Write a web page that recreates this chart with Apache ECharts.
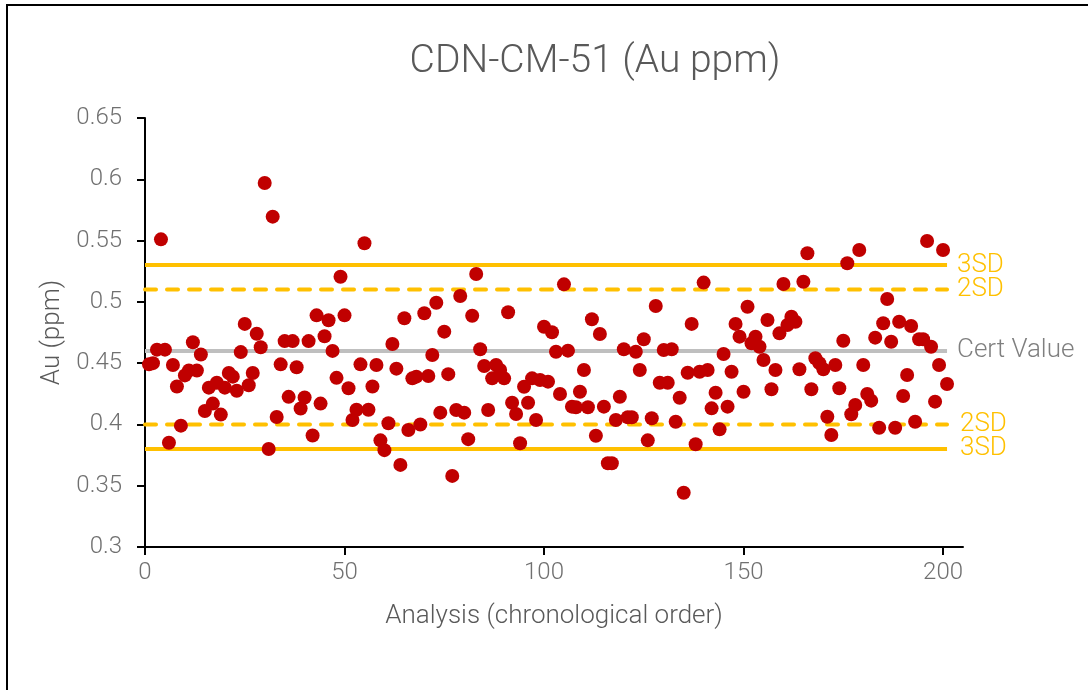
<!DOCTYPE html>
<html>
<head>
<meta charset="utf-8">
<script src="https://cdn.jsdelivr.net/npm/echarts@6/dist/echarts.min.js"></script>
<style>
html,body{margin:0;padding:0;background:#fff;overflow:hidden;}
#c{width:1088px;height:690px;}
</style>
</head>
<body>
<div id="c"></div>
<script>
// Au (ppm) results, analyses 1..201 in chronological order
var auValues = [
0.449,0.450,0.461,0.551,0.461,0.385,0.4485,0.431,0.399,0.440,
0.444,0.467,0.444,0.457,0.411,0.430,0.417,0.434,0.408,0.430,
0.442,0.439,0.4275,0.459,0.482,0.432,0.442,0.474,0.463,0.597,
0.380,0.5695,0.406,0.449,0.468,0.4225,0.468,0.4466,0.413,0.422,
0.468,0.391,0.489,0.417,0.472,0.485,0.460,0.438,0.5205,0.489,
0.4295,0.4036,0.412,0.449,0.5478,0.412,0.431,0.4485,0.387,0.379,
0.401,0.4656,0.4455,0.367,0.4866,0.3955,0.4376,0.439,0.400,0.4907,
0.4395,0.4567,0.4993,0.4096,0.4757,0.441,0.358,0.4118,0.5048,0.4096,
0.388,0.4887,0.5227,0.4613,0.4477,0.4118,0.4376,0.4485,0.4444,0.4376,
0.4915,0.4177,0.4085,0.3846,0.4308,0.4177,0.4376,0.4036,0.4362,0.4797,
0.4349,0.4752,0.4593,0.4248,0.5143,0.4602,0.4145,0.414,0.4267,0.4444,
0.414,0.4858,0.3908,0.4738,0.4145,0.3683,0.3683,0.4036,0.4226,0.4613,
0.4058,0.4058,0.4593,0.4444,0.4695,0.387,0.405,0.4966,0.434,0.4607,
0.434,0.4613,0.4022,0.4218,0.3443,0.4422,0.482,0.3838,0.443,0.5157,
0.4444,0.4131,0.4259,0.396,0.4575,0.4145,0.443,0.482,0.4716,0.4267,
0.496,0.4662,0.4716,0.4634,0.4526,0.4852,0.4287,0.4444,0.4743,0.5146,
0.4811,0.4879,0.4838,0.445,0.5164,0.5396,0.4287,0.454,0.45,0.445,
0.4063,0.3914,0.4485,0.4295,0.4683,0.5315,0.4083,0.4159,0.5423,0.4485,
0.4248,0.4194,0.4708,0.3973,0.4825,0.5023,0.4675,0.3973,0.4838,0.4232,
0.4403,0.4803,0.4022,0.4695,0.4695,0.5497,0.4634,0.4186,0.4485,0.5423,
0.433
];

// control limits
var limitNames  = ['3SD', '2SD', 'Cert Value', '2SD', '3SD'];
var limitValues = [0.53, 0.51, 0.46, 0.40, 0.38];
var limitKinds  = ['solid', 'dashed', 'cert', 'dashed', 'solid'];
var limitSpan   = [0, 201];

var xTicks = [0, 50, 100, 150, 200];
var yTicks = [0.3, 0.35, 0.4, 0.45, 0.5, 0.55, 0.6, 0.65];

var FONT = 'Roboto';
var ORANGE = '#FFC000';

var scatterData = auValues.map(function (v, i) { return [i + 1, v]; });

var limitSeries = limitValues.map(function (v, k) {
  var kind = limitKinds[k];
  var isCert = kind === 'cert';
  var col = isCert ? '#BFBFBF' : ORANGE;
  return {
    type: 'line',
    name: 'limit' + k,
    data: [[limitSpan[0], v], [limitSpan[1], v]],
    symbol: 'none',
    silent: true,
    z: 1,
    lineStyle: {
      color: col,
      width: 4,
      type: kind === 'dashed' ? [11, 11] : 'solid',
      cap: kind === 'dashed' ? 'round' : 'butt'
    },
    endLabel: {
      show: true,
      formatter: limitNames[k],
      color: isCert ? '#7F7F7F' : ORANGE,
      fontFamily: FONT,
      fontWeight: 300,
      fontSize: 26,
      distance: k >= 3 ? 13 : 10
    }
  };
});

var chart = echarts.init(document.getElementById('c'), null, {renderer: 'canvas'});
chart.setOption({
  animation: false,
  backgroundColor: '#fff',
  title: {
    text: 'CDN-CM-51 (Au ppm)',
    left: 590,
    textAlign: 'center',
    top: 38,
    textStyle: {fontFamily: FONT, fontWeight: 300, fontSize: 39, color: '#595959'}
  },
  graphic: [{
    type: 'rect',
    shape: {x: 7, y: 5, width: 1200, height: 800},
    style: {fill: 'none', stroke: '#000', lineWidth: 2},
    silent: true,
    z: 0
  }],
  grid: {left: 145, top: 118, width: 818, height: 429, containLabel: false},
  xAxis: {
    type: 'value',
    min: 0,
    max: 205,
    name: 'Analysis (chronological order)',
    nameLocation: 'middle',
    nameGap: 56,
    nameTextStyle: {fontFamily: FONT, fontWeight: 300, fontSize: 26, color: '#595959'},
    axisLine: {show: true, onZero: false, lineStyle: {color: '#000', width: 2}},
    axisTick: {show: true, length: 8, customValues: xTicks, lineStyle: {color: '#000', width: 2}},
    axisLabel: {customValues: xTicks, margin: 14, fontFamily: FONT, fontWeight: 300, fontSize: 24, color: '#707070'},
    splitLine: {show: false}
  },
  yAxis: {
    type: 'value',
    min: 0.3,
    max: 0.65,
    interval: 0.05,
    name: 'Au (ppm)',
    nameLocation: 'middle',
    nameGap: 68,
    nameTextStyle: {fontFamily: FONT, fontWeight: 300, fontSize: 26, color: '#595959'},
    axisLine: {show: true, lineStyle: {color: '#000', width: 2}},
    axisTick: {show: true, length: 8, lineStyle: {color: '#000', width: 2}},
    axisLabel: {
      margin: 23, fontFamily: FONT, fontWeight: 300, fontSize: 24, color: '#707070',
      formatter: function (v) { return String(+v.toFixed(2)); }
    },
    splitLine: {show: false}
  },
  series: limitSeries.concat([{
    type: 'scatter',
    name: 'Au',
    data: scatterData,
    symbol: 'circle',
    symbolSize: 14,
    z: 5,
    itemStyle: {color: '#C00000', opacity: 1}
  }])
});
</script>
</body>
</html>
